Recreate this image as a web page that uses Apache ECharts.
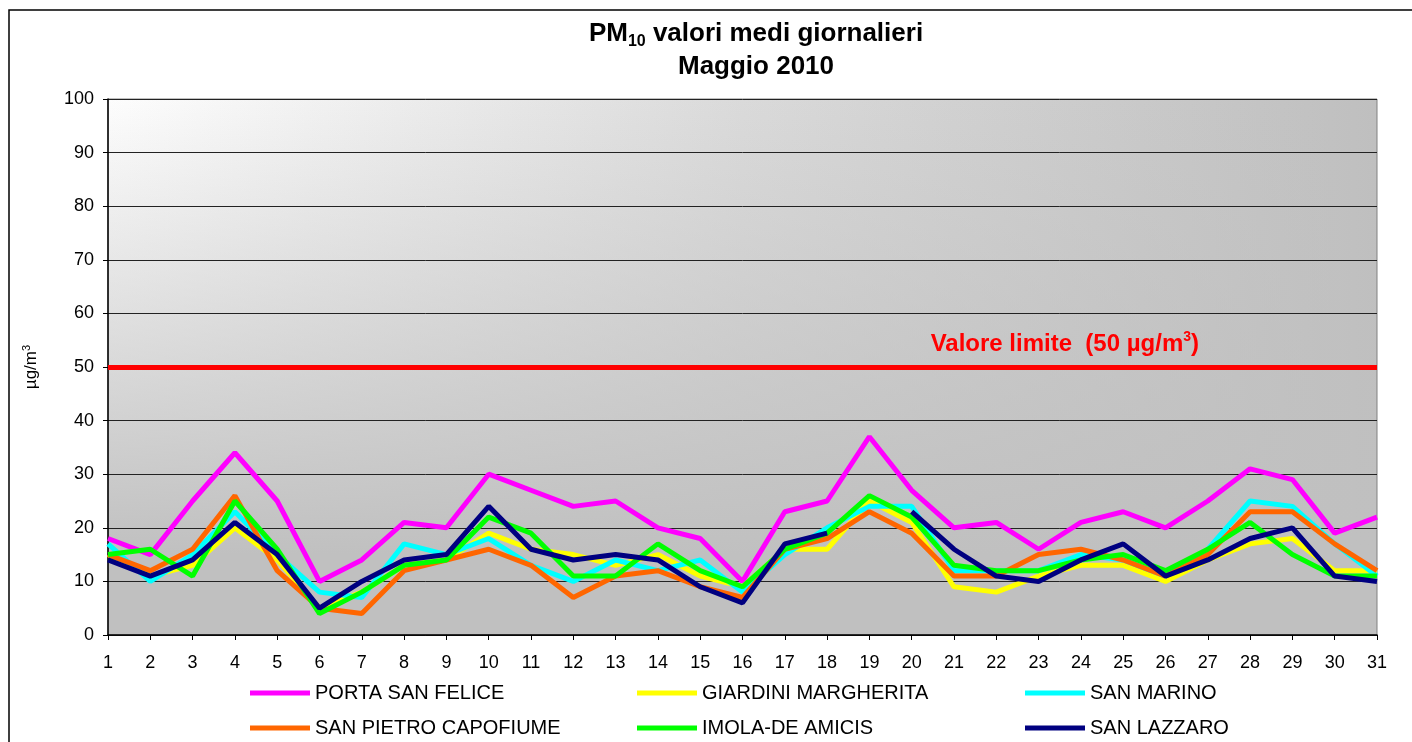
<!DOCTYPE html>
<html>
<head>
<meta charset="utf-8">
<script src="https://cdn.jsdelivr.net/npm/echarts@6/dist/echarts.min.js"></script>
<style>
	html, body { margin: 0; padding: 0; background: #fff; }
	#chart { width: 1412px; height: 742px; }
</style>
</head>
<body>
<div id="chart"></div>
<script>
var days = [];
for (var d = 1; d <= 31; d++) days.push(String(d));

var stationNames = ['PORTA SAN FELICE', 'GIARDINI MARGHERITA', 'SAN MARINO',
	'SAN PIETRO CAPOFIUME', 'IMOLA-DE AMICIS', 'SAN LAZZARO'];
var stationColors = ['#ff00ff', '#ffff00', '#00ffff', '#ff6600', '#00ff00', '#000080'];

var portaSanFelice = [18, 15, 25, 34, 25, 10, 14, 21, 20, 30, 27, 24, 25, 20, 18, 10, 23, 25, 37, 27, 20, 21, 16, 21, 23, 20, 25, 31, 29, 19, 22];
var giardiniMargherita = [15, 11, 13, 20, 14, 5, 8, 13, 14, 19, 16, 15, 13, 15, 11, 9, 16, 16, 25, 21, 9, 8, 11, 13, 13, 10, 14, 17, 18, 12, 12];
var sanMarino = [17, 10, 15, 23, 15, 8, 7, 17, 15, 18, 13, 10, 14, 12, 14, 8, 15, 20, 24, 24, 12, 12, 12, 15, 14, 11, 16, 25, 24, 17, 11];
var sanPietroCapofiume = [15, 12, 16, 26, 12, 5, 4, 12, 14, 16, 13, 7, 11, 12, 9, 7, 16, 18, 23, 19, 11, 11, 15, 16, 14, 11, 15, 23, 23, 17, 12];
var imolaDeAmicis = [15, 16, 11, 25, 16, 4, 8, 13, 14, 22, 19, 11, 11, 17, 12, 9, 16, 19, 26, 22, 13, 12, 12, 14, 15, 12, 16, 21, 15, 11, 11];
var sanLazzaro = [14, 11, 14, 21, 15, 5, 10, 14, 15, 24, 16, 14, 15, 14, 9, 6, 17, 19, null, 23, 16, 11, 10, 14, 17, 11, 14, 18, 20, 11, 10];

var stationData = [portaSanFelice, giardiniMargherita, sanMarino, sanPietroCapofiume, imolaDeAmicis, sanLazzaro];
var limitValue = 50;

var FONT = '"Liberation Sans", Arial, sans-serif';

var chart = echarts.init(document.getElementById('chart'));

var series = stationNames.map(function (name, i) {
	return {
		name: name,
		type: 'line',
		data: stationData[i],
		symbol: 'none',
		connectNulls: false,
		lineStyle: { color: stationColors[i], width: 5 },
		itemStyle: { color: stationColors[i] },
		z: 3 + i
	};
});

// linea valore limite
series[0].markLine = {
	silent: true,
	symbol: 'none',
	data: [{ yAxis: limitValue }],
	lineStyle: { color: '#ff0000', width: 5, type: 'solid' },
	label: {
		position: 'insideEndTop',
		padding: [0, 173, 4, 0],
		formatter: '{a|Valore limite  (50 µg/m}{s|3}{a|)}',
		rich: {
			a: { color: '#ff0000', fontSize: 24, fontWeight: 'bold', fontFamily: FONT, lineHeight: 28 },
			s: { color: '#ff0000', fontSize: 14, fontWeight: 'bold', fontFamily: FONT, verticalAlign: 'top', lineHeight: 14 }
		}
	}
};

// legenda: 3 colonne x 2 righe
var legendCols = [245, 632, 1020];
var legendRows = [678, 713];
var legends = stationNames.map(function (name, i) {
	return {
		data: [name],
		left: legendCols[i % 3],
		top: legendRows[Math.floor(i / 3)],
		icon: 'rect',
		itemWidth: 60,
		itemHeight: 5,
		itemGap: 0,
		selectedMode: false,
		textStyle: { fontSize: 20, fontFamily: FONT, color: '#000' }
	};
});

var option = {
	backgroundColor: '#ffffff',
	animation: false,
	title: [
		{
			text: '{a|PM}{b|10}{a| valori medi giornalieri}',
			left: 751,
			textAlign: 'center',
			top: 13,
			textStyle: {
				rich: {
					a: { fontSize: 26, fontWeight: 'bold', fontFamily: FONT, color: '#000', lineHeight: 32 },
					b: { fontSize: 16, fontWeight: 'bold', fontFamily: FONT, color: '#000', verticalAlign: 'bottom', lineHeight: 18 }
				}
			}
		},
		{
			text: 'Maggio 2010',
			left: 751,
			textAlign: 'center',
			top: 49,
			textStyle: { fontSize: 26, fontWeight: 'bold', fontFamily: FONT, color: '#000' }
		}
	],
	graphic: [
		{
			type: 'rect', z: -10, silent: true,
			shape: { x: 108, y: 99, width: 1269, height: 536 },
			style: {
				fill: new echarts.graphic.LinearGradient(0, 0, 1, 0, [
					{ offset: 0, color: '#fdfdfd' },
					{ offset: 0.5, color: '#dadada' },
					{ offset: 1, color: '#bfbfbf' }
				])
			}
		},
		{
			type: 'rect', z: -9, silent: true,
			shape: { x: 108, y: 99, width: 1269, height: 536 },
			style: {
				fill: new echarts.graphic.LinearGradient(0, 0, 0, 1, [
					{ offset: 0, color: 'rgba(192,192,192,0)' },
					{ offset: 0.85, color: 'rgba(192,192,192,1)' },
					{ offset: 1, color: 'rgba(192,192,192,1)' }
				])
			}
		},
		{
			type: 'rect', z: 100, silent: true,
			shape: { x: 9, y: 10, width: 1500, height: 800 },
			style: { fill: 'none', stroke: '#000', lineWidth: 1.5 }
		}
	],
	legend: legends,
	grid: {
		left: 108,
		right: 35,
		top: 99,
		bottom: 107,
		show: true,
		backgroundColor: 'transparent',
		borderColor: '#808080',
		borderWidth: 1
	},
	xAxis: {
		type: 'category',
		data: days,
		boundaryGap: false,
		axisLine: { lineStyle: { color: '#000', width: 1.5 } },
		axisTick: { show: true, length: 5, inside: false, interval: 0, lineStyle: { color: '#000' } },
		axisLabel: { interval: 0, fontSize: 18, fontFamily: FONT, color: '#000', margin: 19 },
		splitLine: { show: false }
	},
	yAxis: {
		type: 'value',
		min: 0,
		max: 100,
		interval: 10,
		name: '{a|µg/m}{s|3}',
		nameLocation: 'middle',
		nameRotate: 90,
		nameGap: 67,
		nameTextStyle: {
			rich: {
				a: { fontSize: 17, fontFamily: FONT, color: '#000', lineHeight: 20 },
				s: { fontSize: 11, fontFamily: FONT, color: '#000', verticalAlign: 'top', lineHeight: 10 }
			}
		},
		axisLine: { show: true, lineStyle: { color: '#000', width: 1.5 } },
		axisTick: { show: true, length: 5, lineStyle: { color: '#000' } },
		axisLabel: { fontSize: 18, fontFamily: FONT, color: '#000', margin: 14 },
		splitLine: { show: true, lineStyle: { color: '#222', width: 1 } }
	},
	series: series
};

chart.setOption(option);
</script>
</body>
</html>
